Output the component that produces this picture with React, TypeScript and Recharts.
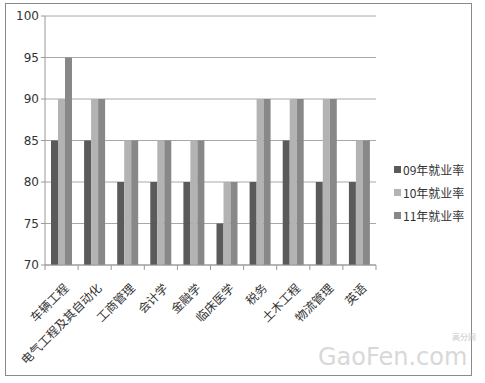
import { Bar, BarChart, CartesianGrid, Legend, XAxis, YAxis } from 'recharts'

const majors = [
  '车辆工程',
  '电气工程及其自动化',
  '工商管理',
  '会计学',
  '金融学',
  '临床医学',
  '税务',
  '土木工程',
  '物流管理',
  '英语',
]
const rate09 = [85, 85, 80, 80, 80, 75, 80, 85, 80, 80]
const rate10 = [90, 90, 85, 85, 85, 80, 90, 90, 90, 85]
const rate11 = [95, 90, 85, 85, 85, 80, 90, 90, 90, 85]
const yTicks = [70, 75, 80, 85, 90, 95, 100]

const data = majors.map((name, i) => ({
  name,
  r09: rate09[i],
  r10: rate10[i],
  r11: rate11[i],
}))

const W = 485
const H = 383
const LEFT = 45
const RIGHT = 376
const BAND = (RIGHT - LEFT) / majors.length

// label rotated -45deg with its end under the category, plus boundary tick marks
const MajorTick = (props: any) => {
  const { x, y, payload, index } = props
  const half = BAND / 2
  const tx = x + 4
  const ty = y + 12
  return (
    <g>
      <line x1={x - half} y1={y - 8} x2={x - half} y2={y - 3} stroke="#999" />
      {index === majors.length - 1 && (
        <line x1={x + half} y1={y - 8} x2={x + half} y2={y - 3} stroke="#999" />
      )}
      <text
        x={tx}
        y={ty}
        transform={`rotate(-45 ${tx} ${ty})`}
        textAnchor="end"
        dominantBaseline="central"
        fontSize={12}
        fill="#333"
        fontFamily="'Noto Sans CJK SC', sans-serif"
      >
        {payload.value}
      </text>
    </g>
  )
}

const LegendBox = ({ payload }: any) => (
  <div style={{ fontSize: 12, color: '#333', fontFamily: "'Noto Sans CJK SC', sans-serif" }}>
    {payload.map((p: any) => (
      <div key={p.value} style={{ display: 'flex', alignItems: 'center', height: 23 }}>
        <span style={{ width: 7, height: 7, background: p.color, marginRight: 2 }} />
        {p.value}
      </div>
    ))}
  </div>
)

export default function App() {
  return (
    <div style={{ position: 'absolute', left: 0, top: 0, width: W, height: H, background: '#fff' }}>
      <div
        style={{
          position: 'absolute',
          left: 5,
          top: 3,
          width: 467,
          height: 373,
          border: '1px solid #8a8a8a',
          boxSizing: 'border-box',
        }}
      />
      <BarChart
        width={W}
        height={H}
        data={data}
        margin={{ top: 16, right: W - RIGHT, bottom: 0, left: 0 }}
        barGap={0}
        barSize={7}
        style={{ fontFamily: "'DejaVu Sans', sans-serif" }}
      >
        <CartesianGrid vertical={false} stroke="#a8a8a8" />
        <XAxis
          dataKey="name"
          interval={0}
          height={H - 265}
          stroke="#999"
          tickLine={false}
          tick={<MajorTick />}
        />
        <YAxis
          domain={[70, 100]}
          ticks={yTicks}
          width={LEFT}
          stroke="#999"
          tickSize={4}
          tick={{ fill: '#333', fontSize: 12 }}
        />
        <Legend
          layout="vertical"
          align="center"
          verticalAlign="middle"
          content={<LegendBox />}
          wrapperStyle={{ left: 394, top: 158, width: 85 }}
        />
        <Bar dataKey="r09" name="09年就业率" fill="#5a5a5a" isAnimationActive={false} />
        <Bar dataKey="r10" name="10年就业率" fill="#b3b3b3" isAnimationActive={false} />
        <Bar dataKey="r11" name="11年就业率" fill="#888888" isAnimationActive={false} />
      </BarChart>
      <div
        style={{
          position: 'absolute',
          left: 318,
          top: 345,
          lineHeight: 1,
          whiteSpace: 'nowrap',
          fontFamily: "'DejaVu Sans', sans-serif",
          fontSize: 24,
          color: '#d8d8d8',
        }}
      >
        GaoFen.com
      </div>
      <div
        style={{
          position: 'absolute',
          left: 452,
          top: 333,
          lineHeight: 1,
          whiteSpace: 'nowrap',
          fontFamily: "'Noto Sans CJK SC', sans-serif",
          fontSize: 8,
          color: '#c8c8c8',
        }}
      >
        高分网
      </div>
    </div>
  )
}
